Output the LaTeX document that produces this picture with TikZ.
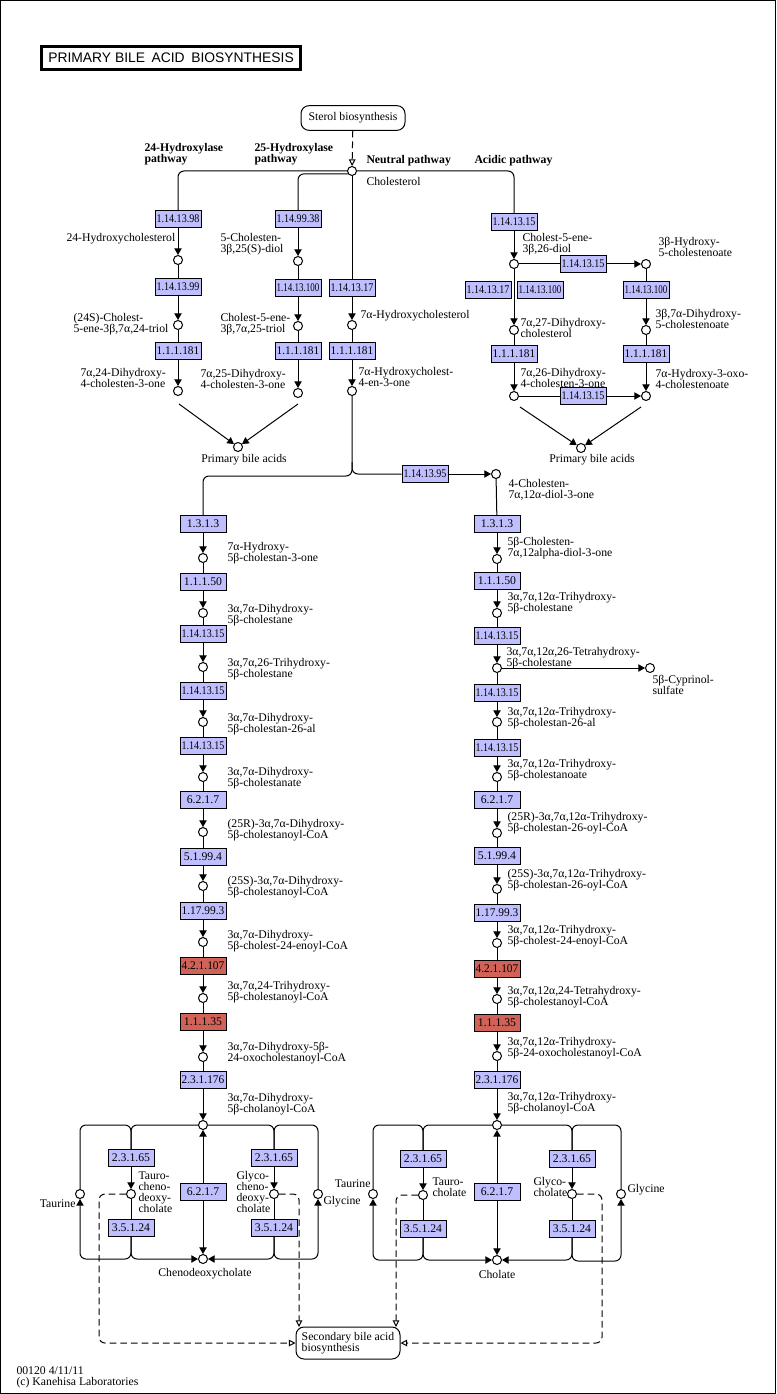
\documentclass[tikz,border=0pt]{standalone}
\usepackage{fontspec}
\setmainfont{Liberation Serif}
\newfontfamily\sansf{Liberation Sans}
\usetikzlibrary{arrows.meta}
\definecolor{ecblue}{RGB}{191,191,255}
\definecolor{ecred}{RGB}{208,98,88}
\newsavebox\ecbx
\newcommand\ecx[1]{\sbox\ecbx{#1}\ifdim\wd\ecbx>32pt\resizebox{32pt}{\height}{#1}\else#1\fi}
\newcommand\EC[5][ec]{\node[#1] (#2) at (#3,#4) {\ecx{#5}};}
\newcommand\CP[3]{\node[cpd] (#1) at (#2,#3) {};}
\newcommand\LB[4]{\node[lbl] (#1) at (#2,#3) {#4};}
\begin{document}
\begin{tikzpicture}[x=0.75pt,y=-0.75pt,line width=0.75pt,
  every node/.style={font=\fontsize{8.8}{8.25}\selectfont},
  cpd/.style={circle,draw,fill=white,minimum size=6.75pt,inner sep=0pt},
  ec/.style={draw,fill=ecblue,minimum width=34.5pt,minimum height=12.5pt,inner sep=0pt},
  ecr/.style={ec,fill=ecred},
  lbl/.style={inner sep=0pt,align=left,anchor=north west},
  lblr/.style={inner sep=0pt,align=right,anchor=north east},
  arr/.style={-{Triangle[length=5pt,width=5.5pt]}},
  darr/.style={dash pattern=on 5pt off 3pt,-{Triangle[open,length=5pt,width=5pt]}},
  rc/.style={rounded corners=4.5pt}]
\useasboundingbox (0,0) rectangle (776,1394);
\draw[line width=1pt] (0.5,0.5) rectangle (775.5,1393.5);
% title
\node[draw,line width=2.25pt,minimum width=194.25pt,minimum height=17.25pt,inner sep=0pt,
  font=\sansf\fontsize{10.4}{12}\selectfont] (title) at (171,58) {PRIMARY BILE\hspace{2pt} ACID\hspace{2pt} BIOSYNTHESIS};
% top
\node[draw,rounded corners=6pt,minimum width=78pt,minimum height=18.5pt,inner sep=0pt] (sterol) at (353,118) {Sterol biosynthesis};
\CP{chol}{352}{171}
\draw[darr] (sterol) -- (chol);
\node[lbl,font=\bfseries\fontsize{8.8}{8.25}\selectfont] (h24) at (144,143) {24-Hydroxylase\\pathway};
\node[lbl,font=\bfseries\fontsize{8.8}{8.25}\selectfont] (h25) at (254,143) {25-Hydroxylase\\pathway};
\node[lbl,font=\bfseries\fontsize{8.8}{8.25}\selectfont] (hneu) at (366,155) {Neutral pathway};
\node[lbl,font=\bfseries\fontsize{8.8}{8.25}\selectfont] (hacd) at (474,155) {Acidic pathway};
\LB{lchol}{366}{177}{Cholesterol}
% 24-hydroxylase column
\EC{e9898}{178}{219}{1.14.13.98}
\CP{c24oh}{178}{260}
\LB{l24oh}{66}{233}{24-Hydroxycholesterol}
\EC{e1399}{178}{287}{1.14.13.99}
\CP{c24s}{178}{325}
\LB{l24s}{73}{313}{(24S)-Cholest-\\5-ene-3β,7α,24-triol}
\EC{e181a}{178}{351}{1.1.1.181}
\CP{c724}{178}{391}
\LB{l724}{80}{368}{7α,24-Dihydroxy-\\4-cholesten-3-one}
\draw[rc] (chol.west) -| (e9898.north);
\draw[arr] (e9898) -- (c24oh);
\draw (c24oh) -- (e1399);
\draw[arr] (e1399) -- (c24s);
\draw (c24s) -- (e181a);
\draw[arr] (e181a) -- (c724);
% 25-hydroxylase column
\EC{e9938}{298}{219}{1.14.99.38}
\CP{cdiol}{298}{261}
\LB{ldiol}{220}{233}{5-Cholesten-\\3β,25(S)-diol}
\EC{e13100a}{298}{288}{1.14.13.100}
\CP{c725t}{298}{326}
\LB{l725t}{220}{313}{Cholest-5-ene-\\3β,7α,25-triol}
\EC{e181b}{298}{351}{1.1.1.181}
\CP{c725}{298}{393}
\LB{l725}{200}{369}{7α,25-Dihydroxy-\\4-cholesten-3-one}
\draw[rc] (chol.215) -| (e9938.north);
\draw[arr] (e9938) -- (cdiol);
\draw (cdiol) -- (e13100a);
\draw[arr] (e13100a) -- (c725t);
\draw (c725t) -- (e181b);
\draw[arr] (e181b) -- (c725);
% primary bile acids left
\CP{pba1}{238}{447}
\node[inner sep=0pt,anchor=north] (lpba1) at (244,454) {Primary bile acids};
\coordinate (p1a) at (179,404);
\coordinate (p1b) at (298,404);
\draw[arr] (p1a) -- (pba1);
\draw[arr] (p1b) -- (pba1);
% neutral column
\EC{e1317}{352}{288}{1.14.13.17}
\CP{c7ah}{352}{325}
\LB{l7ah}{360}{310}{7α-Hydroxycholesterol}
\EC{e181c}{352}{351}{1.1.1.181}
\CP{c7ah4}{352}{391}
\LB{l7ah4}{358}{367}{7α-Hydroxycholest-\\4-en-3-one}
\draw (chol) -- (e1317);
\draw[arr] (e1317) -- (c7ah);
\draw (c7ah) -- (e181c);
\draw[arr] (e181c) -- (c7ah4);
% acidic
\EC{e1315a}{514}{222}{1.14.13.15}
\CP{c26}{514}{264}
\LB{l26}{522}{233}{Cholest-5-ene-\\3β,26-diol}
\EC{e1315b}{583}{264}{1.14.13.15}
\CP{c3bh}{646}{264}
\LB{l3bh}{658}{237}{3β-Hydroxy-\\5-cholestenoate}
\EC{e1317b}{488}{290}{1.14.13.17}
\EC{e13100b}{540}{290}{1.14.13.100}
\EC{e13100c}{646}{290}{1.14.13.100}
\CP{c727}{514}{330}
\LB{l727}{520}{318}{7α,27-Dihydroxy-\\cholesterol}
\CP{c37d}{646}{330}
\LB{l37d}{655}{309}{3β,7α-Dihydroxy-\\5-cholestenoate}
\EC{e181d}{514}{354}{1.1.1.181}
\EC{e181e}{646}{354}{1.1.1.181}
\CP{c726}{514}{396}
\LB{l726}{520}{368}{7α,26-Dihydroxy-\\4-cholesten-3-one}
\CP{c7h3o}{646}{396}
\LB{l7h3o}{655}{369}{7α-Hydroxy-3-oxo-\\4-cholestenoate}
\EC{e1315c}{583}{396}{1.14.13.15}
\draw[rc] (chol.east) -| (e1315a.north);
\draw[arr] (e1315a) -- (c26);
\draw (c26) -- (e1315b);
\draw[arr] (e1315b) -- (c3bh);
\draw[arr] (c26) -- (c727);
\draw (c727) -- (e181d);
\draw[arr] (e181d) -- (c726);
\draw (c726) -- (e1315c);
\draw[arr] (e1315c) -- (c7h3o);
\draw (c3bh) -- (e13100c);
\draw[arr] (e13100c) -- (c37d);
\draw (c37d) -- (e181e);
\draw[arr] (e181e) -- (c7h3o);
\CP{pba2}{581}{448}
\node[inner sep=0pt,anchor=north] (lpba2) at (592,454) {Primary bile acids};
\coordinate (p2a) at (520,407);
\coordinate (p2b) at (641,407);
\draw[arr] (p2a) -- (pba2);
\draw[arr] (p2b) -- (pba2);
% branch
\EC{e1495}{425}{474}{1.14.13.95}
\CP{c4c}{496}{474}
\LB{l4c}{508}{479}{4-Cholesten-\\7α,12α-diol-3-one}
\coordinate (br) at (352,462);
% left chain
\EC{eL1}{203}{524}{1.3.1.3}
\CP{cL1}{203}{558}
\LB{lL1}{227}{542}{7α-Hydroxy-\\5β-cholestan-3-one}
\EC{eL2}{203}{582}{1.1.1.50}
\CP{cL2}{203}{613}
\LB{lL2}{227}{604}{3α,7α-Dihydroxy-\\5β-cholestane}
\EC{eL3}{203}{634}{1.14.13.15}
\CP{cL3}{203}{667}
\LB{lL3}{227}{658}{3α,7α,26-Trihydroxy-\\5β-cholestane}
\EC{eL4}{203}{691}{1.14.13.15}
\CP{cL4}{203}{722}
\LB{lL4}{227}{713}{3α,7α-Dihydroxy-\\5β-cholestan-26-al}
\EC{eL5}{203}{746}{1.14.13.15}
\CP{cL5}{203}{777}
\LB{lL5}{227}{767}{3α,7α-Dihydroxy-\\5β-cholestanate}
\EC{eL6}{203}{800}{6.2.1.7}
\CP{cL6}{203}{832}
\LB{lL6}{227}{819}{(25R)-3α,7α-Dihydroxy-\\5β-cholestanoyl-CoA}
\EC{eL7}{203}{857}{5.1.99.4}
\CP{cL7}{203}{886}
\LB{lL7}{227}{876}{(25S)-3α,7α-Dihydroxy-\\5β-cholestanoyl-CoA}
\EC{eL8}{203}{911}{1.17.99.3}
\CP{cL8}{203}{942}
\LB{lL8}{227}{930}{3α,7α-Dihydroxy-\\5β-cholest-24-enoyl-CoA}
\EC[ecr]{eL9}{203}{966}{4.2.1.107}
\CP{cL9}{203}{998}
\LB{lL9}{227}{981}{3α,7α,24-Trihydroxy-\\5β-cholestanoyl-CoA}
\EC[ecr]{eL10}{203}{1022}{1.1.1.35}
\CP{cL10}{203}{1057}
\LB{lL10}{227}{1042}{3α,7α-Dihydroxy-5β-\\24-oxocholestanoyl-CoA}
\EC{eL11}{203}{1080}{2.3.1.176}
\LB{lL11}{227}{1093}{3α,7α-Dihydroxy-\\5β-cholanoyl-CoA}
\CP{cLt}{203}{1125}
% right chain
\EC{eR1}{497}{524}{1.3.1.3}
\CP{cR1}{497}{559}
\LB{lR1}{507}{537}{5β-Cholesten-\\7α,12alpha-diol-3-one}
\EC{eR2}{497}{581}{1.1.1.50}
\CP{cR2}{497}{613}
\LB{lR2}{507}{592}{3α,7α,12α-Trihydroxy-\\5β-cholestane}
\EC{eR3}{497}{636}{1.14.13.15}
\CP{cR3}{497}{668}
\LB{lR3}{506}{647}{3α,7α,12α,26-Tetrahydroxy-\\5β-cholestane}
\EC{eR4}{497}{693}{1.14.13.15}
\CP{cR4}{497}{722}
\LB{lR4}{507}{707}{3α,7α,12α-Trihydroxy-\\5β-cholestan-26-al}
\EC{eR5}{497}{748}{1.14.13.15}
\CP{cR5}{497}{777}
\LB{lR5}{507}{759}{3α,7α,12α-Trihydroxy-\\5β-cholestanoate}
\EC{eR6}{497}{800}{6.2.1.7}
\CP{cR6}{497}{833}
\LB{lR6}{507}{812}{(25R)-3α,7α,12α-Trihydroxy-\\5β-cholestan-26-oyl-CoA}
\EC{eR7}{497}{856}{5.1.99.4}
\CP{cR7}{497}{889}
\LB{lR7}{507}{869}{(25S)-3α,7α,12α-Trihydroxy-\\5β-cholestan-26-oyl-CoA}
\EC{eR8}{497}{913}{1.17.99.3}
\CP{cR8}{497}{943}
\LB{lR8}{507}{925}{3α,7α,12α-Trihydroxy-\\5β-cholest-24-enoyl-CoA}
\EC[ecr]{eR9}{497}{969}{4.2.1.107}
\CP{cR9}{497}{999}
\LB{lR9}{507}{986}{3α,7α,12α,24-Tetrahydroxy-\\5β-cholestanoyl-CoA}
\EC[ecr]{eR10}{497}{1023}{1.1.1.35}
\CP{cR10}{497}{1056}
\LB{lR10}{507}{1037}{3α,7α,12α-Trihydroxy-\\5β-24-oxocholestanoyl-CoA}
\EC{eR11}{497}{1080}{2.3.1.176}
\LB{lR11}{507}{1092}{3α,7α,12α-Trihydroxy-\\5β-cholanoyl-CoA}
\CP{cRt}{497}{1125}
\CP{cyp}{650}{668}
\LB{lcyp}{652}{675}{5β-Cyprinol-\\sulfate}
% chain connectors
\draw[rc] (c7ah4) -- (352,476) -- (203,476) -- (eL1);
\draw[rc] (br) |- (e1495);
\draw[arr] (e1495) -- (c4c);
\draw (c4c) -- (eR1);
\foreach \i in {1,...,10} {
  \draw[arr] (eL\i) -- (cL\i);
  \draw[arr] (eR\i) -- (cR\i);
}
\foreach \i/\j in {1/2,2/3,3/4,4/5,5/6,6/7,7/8,8/9,9/10,10/11} {
  \draw (cL\i) -- (eL\j);
  \draw (cR\i) -- (eR\j);
}
\draw[arr] (eL11) -- (cLt);
\draw[arr] (eR11) -- (cRt);
\draw[arr] (cR3) -- (cyp);
% secondary box
\node[draw,rounded corners=6pt,minimum width=78pt,minimum height=24pt,inner sep=0pt,align=left] (sec) at (348,1343) {Secondary bile acid\\biosynthesis};
\coordinate (s1) at (299,1327);
\coordinate (s2) at (396,1327);
% left cycle
\EC{e6217c}{203}{1192}{6.2.1.7}
\CP{ccdca}{203}{1259}
\node[inner sep=0pt,anchor=north] (lcdca) at (205,1268) {Chenodeoxycholate};
\EC{e2365a}{131}{1158}{2.3.1.65}
\CP{ctcdca}{131}{1194}
\EC{e3524a}{131}{1228}{3.5.1.24}
\LB{ltcdca}{138}{1171}{Tauro-\\cheno-\\deoxy-\\cholate}
\CP{ctau1}{80}{1194}
\node[inner sep=0pt,anchor=north east] (ltau1) at (76,1199) {Taurine};
\EC{e2365b}{274}{1158}{2.3.1.65}
\CP{cgcdca}{274}{1194}
\EC{e3524b}{274}{1228}{3.5.1.24}
\LB{lgcdca}{236}{1171}{Glyco-\\cheno-\\deoxy-\\cholate}
\CP{cgly1}{318}{1194}
\LB{lgly1}{323}{1196}{Glycine}
\draw[arr] (e6217c) -- (cLt);
\draw[arr] (e6217c) -- (ccdca);
\draw[rc] (cLt.west) -- (131,1125) -- (e2365a.north);
\draw[rc] (ctau1.north) -- (80,1125) -- (131,1125) -- (e2365a.north);
\draw[arr] (e2365a) -- (ctcdca);
\draw (ctcdca) -- (e3524a);
\draw[arr,rc] (e3524a.south) -- (131,1259) -- (ccdca.west);
\draw[arr,rc] (e3524a.south) -- (131,1259) -- (80,1259) -- (ctau1.south);
\draw[rc] (cLt.east) -- (274,1125) -- (e2365b.north);
\draw[rc] (cgly1.north) -- (318,1125) -- (274,1125) -- (e2365b.north);
\draw[arr] (e2365b) -- (cgcdca);
\draw (cgcdca) -- (e3524b);
\draw[arr,rc] (e3524b.south) -- (274,1259) -- (ccdca.east);
\draw[arr,rc] (e3524b.south) -- (274,1259) -- (318,1259) -- (cgly1.south);
\draw[darr,rc] (ctcdca.west) -- (99,1194) |- (sec.west);
\draw[darr,rc] (cgcdca.east) -| (s1);
% right cycle
\EC{e6217d}{497}{1192}{6.2.1.7}
\CP{ccho}{497}{1260}
\node[inner sep=0pt,anchor=north] (lcho) at (497,1270) {Cholate};
\EC{e2365c}{423}{1159}{2.3.1.65}
\CP{ctca}{423}{1195}
\EC{e3524c}{423}{1229}{3.5.1.24}
\LB{ltca}{432}{1177}{Tauro-\\cholate}
\CP{ctau2}{373}{1194}
\node[inner sep=0pt,anchor=north east] (ltau2) at (371,1179) {Taurine};
\EC{e2365d}{572}{1159}{2.3.1.65}
\CP{cgca}{572}{1194}
\EC{e3524d}{572}{1229}{3.5.1.24}
\LB{lgca}{533}{1177}{Glyco-\\cholate}
\CP{cgly2}{621}{1194}
\LB{lgly2}{627}{1184}{Glycine}
\draw[arr] (e6217d) -- (cRt);
\draw[arr] (e6217d) -- (ccho);
\draw[rc] (cRt.west) -- (423,1125) -- (e2365c.north);
\draw[rc] (ctau2.north) -- (373,1125) -- (423,1125) -- (e2365c.north);
\draw[arr] (e2365c) -- (ctca);
\draw (ctca) -- (e3524c);
\draw[arr,rc] (e3524c.south) -- (423,1260) -- (ccho.west);
\draw[arr,rc] (e3524c.south) -- (423,1260) -- (373,1260) -- (ctau2.south);
\draw[rc] (cRt.east) -- (572,1125) -- (e2365d.north);
\draw[rc] (cgly2.north) -- (621,1125) -- (572,1125) -- (e2365d.north);
\draw[arr] (e2365d) -- (cgca);
\draw (cgca) -- (e3524d);
\draw[arr,rc] (e3524d.south) -- (572,1260) -- (ccho.east);
\draw[arr,rc] (e3524d.south) -- (572,1261) -- (621,1261) -- (cgly2.south);
\draw[darr,rc] (ctca.west) -| (s2);
\draw[darr,rc] (cgca.east) -- (602,1194) |- (sec.east);
% footer
\LB{foot}{16}{1366}{00120 4/11/11\\(c) Kanehisa Laboratories}
\end{tikzpicture}
\end{document}
